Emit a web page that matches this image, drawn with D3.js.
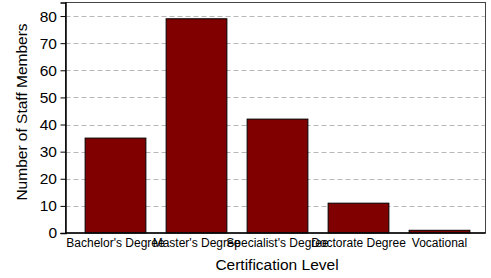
<!DOCTYPE html>
<html>
<head>
<meta charset="utf-8">
<script src="https://cdn.jsdelivr.net/npm/d3@7"></script>
<style>
  body { margin: 0; background: #fff; }
  svg { display: block; font-family: "Liberation Sans", Arial, sans-serif; }
</style>
</head>
<body>
<svg id="chart" width="491" height="278"></svg>
<script>
// Data
var categories = ["Bachelor's Degree", "Master's Degree", "Specialist's Degree", "Doctorate Degree", "Vocational"];
var staffCounts = [35, 79, 42, 11, 1];
var yTicks = [0, 10, 20, 30, 40, 50, 60, 70, 80];

var svg = d3.select("#chart");

// Plot frame
var frame = { left: 65.5, right: 485.5, top: 2.5, bottom: 233 };

var x = d3.scaleBand()
	.domain(categories)
	.range([75, 480])
	.paddingInner(0.25)
	.paddingOuter(0.125);

var y = d3.scaleLinear()
	.domain([0, 85])
	.range([frame.bottom, frame.top]);

// Gridlines
svg.append("g")
	.selectAll("line")
	.data(yTicks.filter(function(d) { return d > 0; }))
	.enter().append("line")
		.attr("x1", frame.left)
		.attr("x2", frame.right)
		.attr("y1", function(d) { return Math.round(y(d)) + 0.5; })
		.attr("y2", function(d) { return Math.round(y(d)) + 0.5; })
		.attr("stroke", "#b8b8b8")
		.attr("stroke-dasharray", "5,3");

// Bars
svg.append("g")
	.selectAll("rect")
	.data(staffCounts)
	.enter().append("rect")
		.attr("x", function(d, i) { return x(categories[i]); })
		.attr("y", function(d) { return y(d); })
		.attr("width", x.bandwidth())
		.attr("height", function(d) { return y(0) - y(d); })
		.attr("fill", "#800000")
		.attr("stroke", "#000")
		.attr("stroke-width", 1);

// Frame border
svg.append("rect")
	.attr("x", frame.left)
	.attr("y", frame.top)
	.attr("width", frame.right - frame.left)
	.attr("height", frame.bottom - frame.top)
	.attr("fill", "none")
	.attr("stroke", "#444")
	.attr("stroke-width", 1);

// Y axis
var yAxis = svg.append("g")
	.attr("transform", "translate(" + frame.left + ",0)")
	.call(d3.axisLeft(y).tickValues(yTicks).tickSize(5).tickPadding(3.5).tickFormat(d3.format("d")));
yAxis.select(".domain").attr("stroke", "#000").attr("stroke-width", 1.5);
yAxis.selectAll("text").style("font-size", "15.5px").attr("fill", "#000");

// Bottom axis line
svg.append("line")
	.attr("x1", frame.left)
	.attr("x2", frame.right)
	.attr("y1", frame.bottom)
	.attr("y2", frame.bottom)
	.attr("stroke", "#000")
	.attr("stroke-width", 1.5);

// X axis labels
var xAxis = svg.append("g")
	.attr("transform", "translate(0," + frame.bottom + ")")
	.call(d3.axisBottom(x).tickSize(0).tickPadding(5));
xAxis.select(".domain").remove();
xAxis.selectAll("text").style("font-size", "12px").attr("fill", "#000");

// Axis titles
svg.append("text")
	.attr("x", 277)
	.attr("y", 270)
	.attr("text-anchor", "middle")
	.style("font-size", "15.5px")
	.text("Certification Level");

svg.append("text")
	.attr("transform", "translate(27,112) rotate(-90)")
	.attr("text-anchor", "middle")
	.style("font-size", "15.5px")
	.text("Number of Staff Members");
</script>
</body>
</html>
